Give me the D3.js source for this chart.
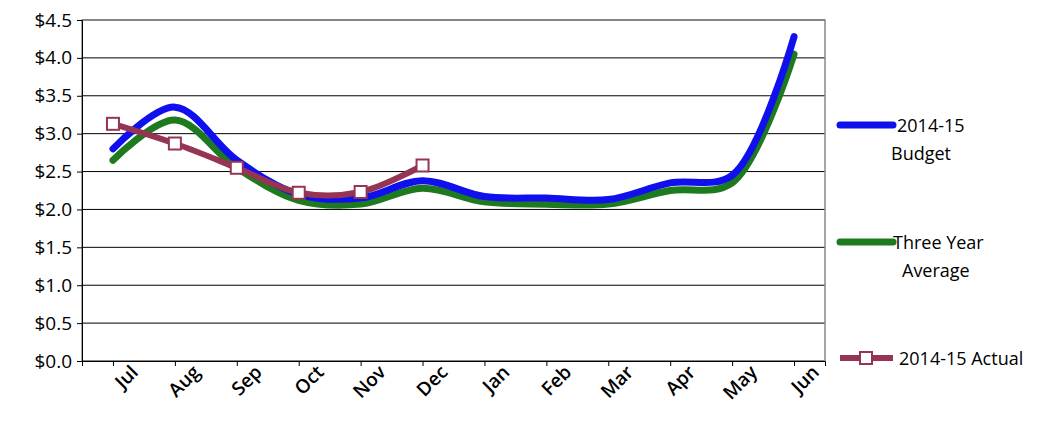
<!DOCTYPE html>
<html><head><meta charset="utf-8">
<script src="https://cdn.jsdelivr.net/npm/d3@7"></script>
<style>body{margin:0;background:#fff}text{font-family:"Open Sans","DejaVu Sans",sans-serif;fill:#000}</style>
</head><body><svg id="c" width="1059" height="426"></svg>
<script>
var months = ["Jul","Aug","Sep","Oct","Nov","Dec","Jan","Feb","Mar","Apr","May","Jun"];
var budget = [2.8,3.35,2.65,2.2,2.15,2.38,2.17,2.15,2.13,2.35,2.45,4.28];
var threeYear = [2.65,3.18,2.55,2.12,2.07,2.28,2.1,2.07,2.07,2.25,2.35,4.05];
var actual = [3.13,2.87,2.55,2.22,2.23,2.58];
var yTicks = [0,0.5,1,1.5,2,2.5,3,3.5,4,4.5];

var svg = d3.select("#c");
var L = 82, R = 825, T = 20, B = 361;
var x = d3.scalePoint().domain(months).range([L, R]).padding(0.5);
var y = d3.scaleLinear().domain([0, 4.5]).range([B, T]);

// gridlines
svg.append("g").selectAll("line").data(yTicks).enter().append("line")
  .attr("x1", L).attr("x2", R).attr("y1", y).attr("y2", y)
  .attr("stroke", "#000").attr("stroke-width", 1);
svg.append("rect").attr("x", L).attr("y", T).attr("width", R - L).attr("height", B - T)
  .attr("fill", "none").attr("stroke", "#888").attr("stroke-width", 1.5);

var yAxis = svg.append("g").attr("transform", "translate(" + L + ",0)")
  .call(d3.axisLeft(y).tickValues(yTicks).tickFormat(function(d){ return "$" + d3.format(".1f")(d); }).tickSize(5));
yAxis.select(".domain").attr("stroke", "#000");
yAxis.selectAll("text").style("font-size", "19px").attr("dx", "-2");

var xAxis = svg.append("g").attr("transform", "translate(0," + B + ")")
  .call(d3.axisBottom(x).tickSize(5));
xAxis.select(".domain").attr("stroke", "#000");
xAxis.selectAll("text").style("font-size", "19px").style("font-weight", "600").style("text-anchor", "end")
  .attr("transform", "rotate(-45)").attr("dx", "0.5em").attr("dy", "1.0em");

var line = d3.line().x(function(d, i){ return x(months[i]); }).y(function(d){ return y(d); })
  .curve(d3.curveCatmullRom.alpha(0.5));
svg.append("path").datum(threeYear).attr("d", line).attr("fill", "none")
  .attr("stroke", "#1e7a1e").attr("stroke-width", 7).attr("stroke-linecap", "round");
svg.append("path").datum(budget).attr("d", line).attr("fill", "none")
  .attr("stroke", "#1010ee").attr("stroke-width", 7).attr("stroke-linecap", "round");
svg.append("path").datum(actual).attr("d", line)
  .attr("fill", "none").attr("stroke", "#953553").attr("stroke-width", 6);
svg.append("g").selectAll("rect").data(actual).enter().append("rect")
  .attr("x", function(d, i){ return x(months[i]) - 6; }).attr("y", function(d){ return y(d) - 6; })
  .attr("width", 12).attr("height", 12).attr("fill", "#fff").attr("stroke", "#953553").attr("stroke-width", 2);

// legend
var lg = svg.append("g").style("font-size", "18px");
lg.append("line").attr("x1", 840).attr("x2", 893).attr("y1", 125).attr("y2", 125)
  .attr("stroke", "#1010ee").attr("stroke-width", 7).attr("stroke-linecap", "round");
lg.append("text").attr("x", 897).attr("y", 132).text("2014-15");
lg.append("text").attr("x", 891).attr("y", 160).text("Budget");
lg.append("line").attr("x1", 840).attr("x2", 893).attr("y1", 242).attr("y2", 242)
  .attr("stroke", "#1e7a1e").attr("stroke-width", 7).attr("stroke-linecap", "round");
lg.append("text").attr("x", 893).attr("y", 249).text("Three Year");
lg.append("text").attr("x", 902).attr("y", 277).text("Average");
lg.append("line").attr("x1", 840).attr("x2", 893).attr("y1", 358).attr("y2", 358)
  .attr("stroke", "#953553").attr("stroke-width", 6);
lg.append("rect").attr("x", 860).attr("y", 352).attr("width", 12).attr("height", 12)
  .attr("fill", "#fff").attr("stroke", "#953553").attr("stroke-width", 2);
lg.append("text").attr("x", 899).attr("y", 365).text("2014-15 Actual");
</script></body></html>
